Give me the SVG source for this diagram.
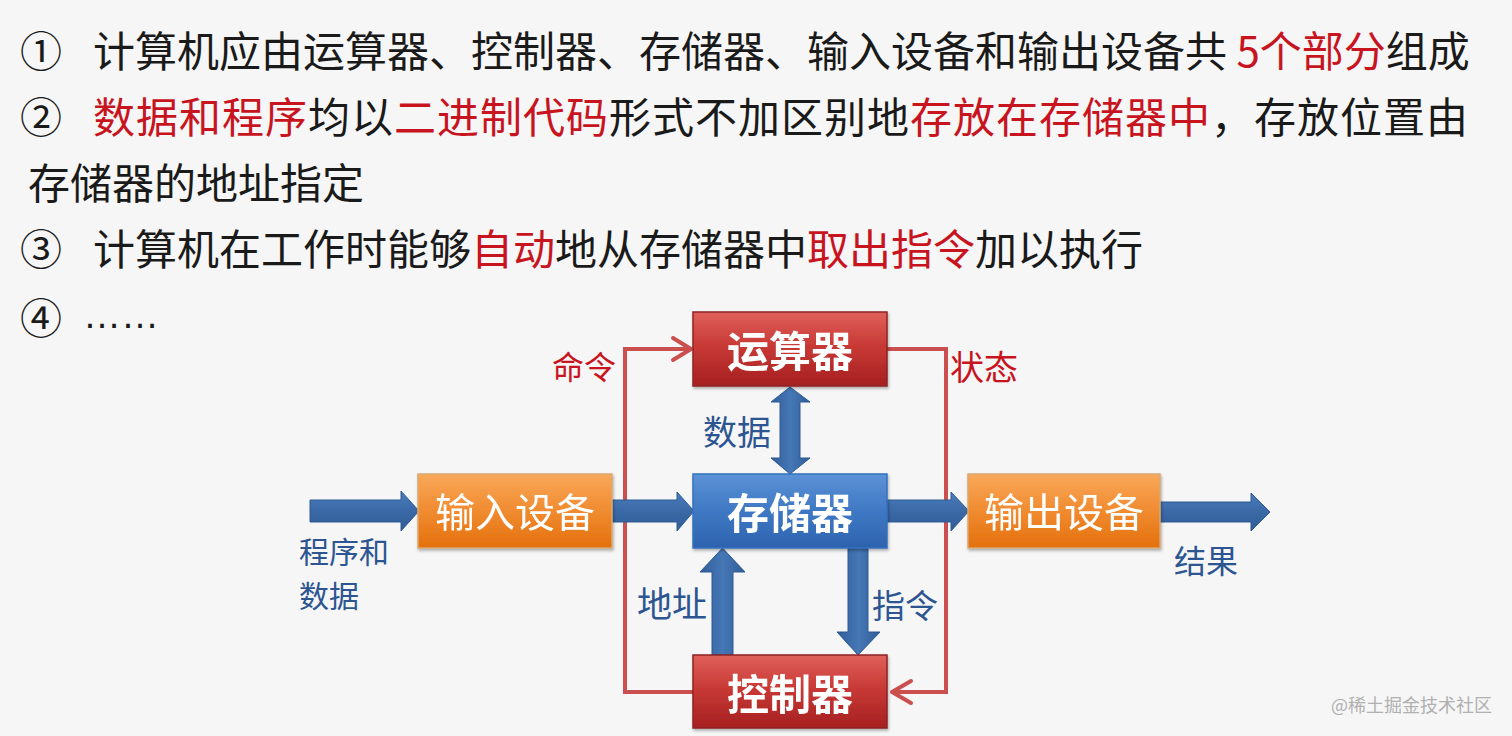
<svg xmlns="http://www.w3.org/2000/svg" width="1512" height="736" viewBox="0 0 1512 736">
<defs>
<style>
.t{font-family:"Noto Sans CJK SC","Noto Sans",sans-serif;font-size:42px;fill:#1a1a1a}
.r{fill:#c8141f}
.lbl{font-family:"Noto Sans CJK SC","Noto Sans",sans-serif;fill:#2c5592}
.lr{font-family:"Noto Sans CJK SC","Noto Sans",sans-serif;fill:#c8141f}
.bx{font-family:"Noto Sans CJK SC","Noto Sans",sans-serif;fill:#ffffff;text-anchor:middle}
.b{font-weight:bold;font-size:42px}
.o{font-size:40px}
.red{fill:url(#gRed);stroke:#8e2424;stroke-width:1.5}
.blue{fill:url(#gBlue);stroke:#3470bd;stroke-width:1.5}
.org{fill:url(#gOrg);stroke:#d8a873;stroke-width:1.5}
.ln{fill:none;stroke:#cc4f4f;stroke-width:4;stroke-linejoin:miter}
.ah{fill:none;stroke:#cc4f4f;stroke-width:4;stroke-linecap:round;stroke-linejoin:round}
.ba{fill:url(#gArr);stroke:#2e5b93;stroke-width:1}
.bav{fill:url(#gArrV);stroke:#2e5b93;stroke-width:1}
</style>
<linearGradient id="gRed" x1="0" y1="0" x2="0" y2="1">
<stop offset="0" stop-color="#e0605a"/><stop offset="0.45" stop-color="#c83a36"/><stop offset="1" stop-color="#a61f20"/>
</linearGradient>
<linearGradient id="gBlue" x1="0" y1="0" x2="0" y2="1">
<stop offset="0" stop-color="#5c92d6"/><stop offset="0.5" stop-color="#3f78c4"/><stop offset="1" stop-color="#2d63ae"/>
</linearGradient>
<linearGradient id="gOrg" x1="0" y1="0" x2="0" y2="1">
<stop offset="0" stop-color="#f9a85a"/><stop offset="0.5" stop-color="#f08b30"/><stop offset="1" stop-color="#e4700c"/>
</linearGradient>
<linearGradient id="gArr" x1="0" y1="0" x2="0" y2="1">
<stop offset="0" stop-color="#4a7cbc"/><stop offset="0.5" stop-color="#3a69a6"/><stop offset="1" stop-color="#305d97"/>
</linearGradient>
<linearGradient id="gArrV" x1="0" y1="0" x2="1" y2="0">
<stop offset="0" stop-color="#305d97"/><stop offset="0.5" stop-color="#4677b6"/><stop offset="1" stop-color="#305d97"/>
</linearGradient>
<filter id="sh" x="-10%" y="-10%" width="125%" height="130%">
<feDropShadow dx="1" dy="2" stdDeviation="1.5" flood-color="#000" flood-opacity="0.3"/>
</filter>
</defs>
<rect width="1512" height="736" fill="#f6f6f6"/>

<g id="text">
<text class="t" x="20" y="67">①</text>
<text class="t" x="93" y="67">计算机应由运算器、控制器、存储器、输入设备和输出设备共 <tspan class="r">5个部分</tspan>组成</text>
<text class="t" x="20" y="133">②</text>
<text class="t" x="93" y="133" letter-spacing="1"><tspan class="r">数据和程序</tspan>均以<tspan class="r">二进制代码</tspan>形式不加区别地<tspan class="r">存放在存储器中</tspan>，存放位置由</text>
<text class="t" x="28" y="199">存储器的地址指定</text>
<text class="t" x="20" y="265">③</text>
<text class="t" x="93" y="265">计算机在工作时能够<tspan class="r">自动</tspan>地从存储器中<tspan class="r">取出指令</tspan>加以执行</text>
<text class="t" x="20" y="334">④</text>
<text x="83" y="328" style="font-family:'Liberation Sans',sans-serif;font-size:38px;fill:#1a1a1a">……</text>
</g>

<g id="connectors">
<path class="ln" d="M693 692 H625 V349 H690"/>
<path class="ah" d="M673 338 L691 349 L673 360"/>
<path class="ln" d="M887 349 H946 V692 H892"/>
<path class="ah" d="M911 681 L892 692 L911 703"/>
<polygon class="ba" points="310,500 401,500 401,491 419,511 401,531 401,522 310,522"/>
<polygon class="ba" points="612,500 677,500 677,492 694,511 677,531 677,522 612,522"/>
<polygon class="ba" points="887,500 951,500 951,492 969,511 951,531 951,522 887,522"/>
<polygon class="ba" points="1160,502 1251,502 1251,493 1270,512 1251,531 1251,522 1160,522"/>
<polygon class="bav" points="790,387 810,402 800,402 800,458 810,458 790,474 771,458 780,458 780,402 771,402"/>
<polygon class="bav" points="722.5,548 745,572 733,572 733,655 712,655 712,572 700,572"/>
<polygon class="bav" points="848,548 868,548 868,632 880,632 858,655 837,632 848,632"/>
<text class="lr" x="552" y="379" font-size="32">命令</text>
<text class="lr" x="950" y="380" font-size="34">状态</text>
<text class="lbl" x="703" y="445" font-size="34">数据</text>
<text class="lbl" x="299" y="563" font-size="30">程序和</text>
<text class="lbl" x="299" y="607" font-size="30">数据</text>
<text class="lbl" x="637" y="617" font-size="35">地址</text>
<text class="lbl" x="872" y="618" font-size="33">指令</text>
<text class="lbl" x="1174" y="573" font-size="32">结果</text>
</g>

<g id="alu" filter="url(#sh)">
<rect class="red" x="693" y="312" width="194" height="74"/>
<text class="bx b" x="790" y="367">运算器</text>
</g>
<g id="memory" filter="url(#sh)">
<rect class="blue" x="693" y="474" width="194" height="74"/>
<text class="bx b" x="790" y="529">存储器</text>
</g>
<g id="controller" filter="url(#sh)">
<rect class="red" x="693" y="655" width="194" height="73"/>
<text class="bx b" x="790" y="710">控制器</text>
</g>
<g id="input" filter="url(#sh)">
<rect class="org" x="418" y="474" width="194" height="74"/>
<text class="bx o" x="515" y="527">输入设备</text>
</g>
<g id="output" filter="url(#sh)">
<rect class="org" x="968" y="474" width="192" height="74"/>
<text class="bx o" x="1064" y="527">输出设备</text>
</g>

<text x="1331" y="712" style="font-family:'Noto Sans CJK SC',sans-serif;font-size:18px;fill:#b0b0b0">@稀土掘金技术社区</text>
</svg>
